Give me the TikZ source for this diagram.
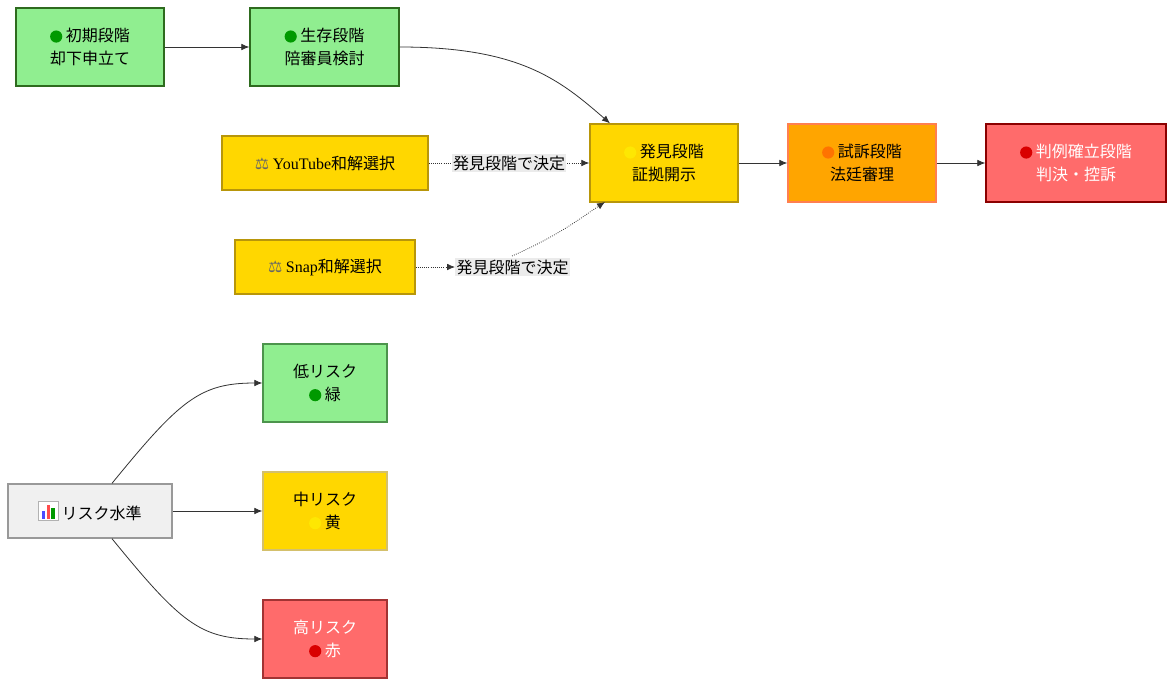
\documentclass[tikz,border=0pt]{standalone}
\usepackage{fontspec}
\setmainfont{Noto Sans CJK JP}
\newfontfamily\latfont{Liberation Serif}
\newfontfamily\symfont{DejaVu Sans}
\usetikzlibrary{arrows.meta}
\definecolor{gfill}{HTML}{90EE90}
\definecolor{gline}{HTML}{2E6B1E}
\definecolor{yfill}{HTML}{FFD700}
\definecolor{yline}{HTML}{B8960A}
\definecolor{ofill}{HTML}{FFA500}
\definecolor{oline}{HTML}{FF7F50}
\definecolor{rfill}{HTML}{FF6B6B}
\definecolor{rline}{HTML}{8B0000}
\newcommand{\stdot}[1]{\tikz[baseline=-0.6ex]\fill[#1] (0,0) circle (0.7ex);}
\newcommand{\chartic}{\tikz[baseline=0ex,x=0.1em,y=0.1em]{\draw[gray!60,fill=white] (0,-1) rectangle (12,11);
  \fill[blue!70] (2,0) rectangle (4,5); \fill[red!70] (5,0) rectangle (7,9); \fill[green!60!black] (8,0) rectangle (10,7);}}
\tikzset{
  box/.style={draw, line width=1pt, align=center, font=\fontsize{12}{17}\selectfont, inner sep=0pt},
  grn/.style={box, fill=gfill, draw=gline},
  ylw/.style={box, fill=yfill, draw=yline},
  flow/.style={-{Latex[length=6pt,width=5pt]}, draw=black!80, line width=0.6pt},
  opt/.style={flow, densely dotted},
  tag/.style={fill=black!8, inner sep=1pt, font=\fontsize{12}{14}\selectfont}
}
\begin{document}
\begin{tikzpicture}[x=0.75pt,y=-0.75pt]
  \useasboundingbox (0,0) rectangle (1174,686);
  % stages
  \node[grn, minimum width=148*0.75pt, minimum height=78*0.75pt] (init) at (90,47) {\stdot{green!60!black} 初期段階\\却下申立て};
  \node[grn, minimum width=149*0.75pt, minimum height=78*0.75pt] (surv) at (324.5,47) {\stdot{green!60!black} 生存段階\\陪審員検討};
  \node[ylw, minimum width=148*0.75pt, minimum height=78*0.75pt] (disc) at (664,163) {\stdot{yellow!90!orange} 発見段階\\証拠開示};
  \node[box, fill=ofill, draw=oline, minimum width=148*0.75pt, minimum height=78*0.75pt] (trial) at (862,163) {\stdot{orange!90!red} 試訴段階\\法廷審理};
  \node[box, fill=rfill, draw=rline, text=white, minimum width=180*0.75pt, minimum height=78*0.75pt] (final) at (1076,163) {\stdot{red!85!black} 判例確立段階\\判決・控訴};
  % settlements
  \node[ylw, minimum width=206*0.75pt, minimum height=54*0.75pt] (yt) at (325,163) {{\symfont\color{black!60}⚖} {\latfont YouTube}和解選択};
  \node[ylw, minimum width=180*0.75pt, minimum height=54*0.75pt] (snap) at (325,267) {{\symfont\color{black!60}⚖} {\latfont Snap}和解選択};
  % risk levels
  \node[box, fill=black!6, draw=black!40, minimum width=164*0.75pt, minimum height=54*0.75pt] (risk) at (90,511) {\chartic\ リスク水準};
  \node[grn, draw=green!40!black!70, minimum width=124*0.75pt, minimum height=78*0.75pt] (low) at (325,383) {低リスク\\\stdot{green!60!black} 緑};
  \node[ylw, draw=yline!60, minimum width=124*0.75pt, minimum height=78*0.75pt] (mid) at (325,511) {中リスク\\\stdot{yellow!90!orange} 黄};
  \node[box, fill=rfill, draw=rline!80, text=white, minimum width=124*0.75pt, minimum height=78*0.75pt] (high) at (325,639) {高リスク\\\stdot{red!85!black} 赤};
  % connectors
  \draw[flow] (init) -- (surv);
  \draw[flow] (surv.east) .. controls (520,47) and (560,80) .. (disc.north west -| 610,124);
  \draw[flow] (disc) -- (trial);
  \draw[flow] (trial) -- (final);
  \draw[opt] (yt) -- node[tag] {発見段階で決定} (disc);
  \draw[opt] (snap.east) -- (455,267) node[tag, anchor=west] (tg) {発見段階で決定};
  \draw[opt] (512,256) .. controls (560,235) and (585,215) .. (605,202);
  \draw[flow] (risk.north -| 112,484) .. controls (180,400) and (200,383) .. (low.west);
  \draw[flow] (risk) -- (mid);
  \draw[flow] (risk.south -| 112,538) .. controls (180,622) and (200,639) .. (high.west);
\end{tikzpicture}
\end{document}
